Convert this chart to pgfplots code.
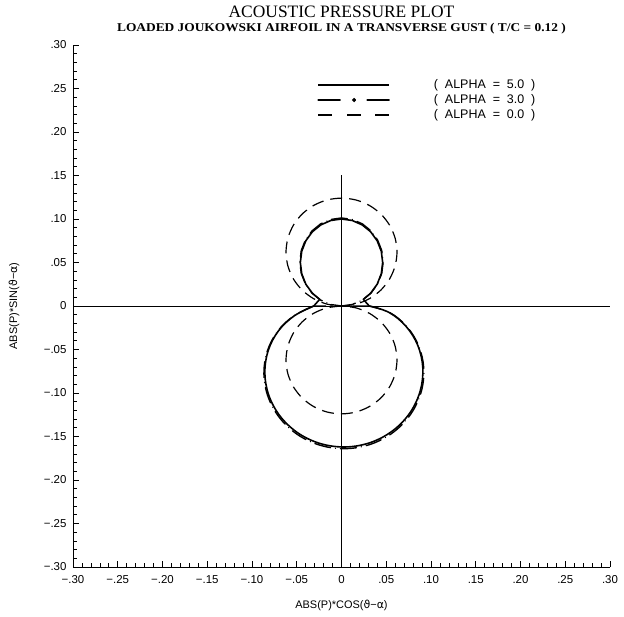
\documentclass[border=0pt]{standalone}
\usepackage{fontspec}
\setmainfont{Liberation Sans}
\newfontfamily\titlefont{Liberation Serif}
\newfontfamily\djv{DejaVu Sans}
\usepackage{pgfplots}
\pgfplotsset{compat=1.18}
\begin{document}
\begin{tikzpicture}
\begin{axis}[
 scale only axis, width=537bp, height=522bp,
 xmin=-0.3, xmax=0.3, ymin=-0.3, ymax=0.3,
 axis x line=bottom, axis y line=left,
 axis line style={-, line width=0.9pt},
 tick align=inside,
 xtick={-0.3,-0.25,-0.2,-0.15,-0.1,-0.05,0,0.05,0.1,0.15,0.2,0.25,0.3},
 ytick={-0.3,-0.25,-0.2,-0.15,-0.1,-0.05,0,0.05,0.1,0.15,0.2,0.25,0.3},
 xticklabels={−.30,−.25,−.20,−.15,−.10,−.05,0,.05,.10,.15,.20,.25,.30},
 yticklabels={−.30,−.25,−.20,−.15,−.10,−.05,0,.05,.10,.15,.20,.25,.30},
 minor x tick num=4, minor y tick num=4,
 major tick length=6bp, minor tick length=4bp,
 every tick/.style={black, line width=0.7pt},
 ticklabel style={font=\fontsize{11.5}{13}\selectfont},
 xticklabel style={yshift=-5bp},
 yticklabel style={xshift=-3bp},
 xlabel={ABS(P)*COS({\djv ϑ}−{\djv α})},
 ylabel={ABS(P)*SIN({\djv ϑ}−{\djv α})},
 every axis x label/.style={at={(rel axis cs:0.5,0)}, yshift=-38bp, anchor=center},
 every axis y label/.style={at={(rel axis cs:0,0.5)}, xshift=-59bp, rotate=90, anchor=center},
 label style={font=\fontsize{11}{13}\selectfont},
 clip=false,
 legend cell align=left,
 legend style={draw=none, fill=none, at={(axis cs:-0.027,0.2600)}, anchor=north west,
   inner sep=0pt, outer sep=0pt, row sep=4.5bp,
   font=\fontsize{12.5}{14}\selectfont,
   nodes={inner sep=0pt},
   /tikz/every odd column/.append style={column sep=44bp}},
]
\coordinate (bl) at (rel axis cs:0,0);
\coordinate (tr) at (rel axis cs:1,1);
% cross lines
\addplot[black, line width=0.8pt, forget plot] coordinates {(-0.3,0) (0.3,0)};
\addplot[black, line width=0.8pt, forget plot] coordinates {(0,-0.3) (0,0.15)};
% ALPHA = 5.0 (upper lobe)
\addplot[black, line width=1.6pt, line join=round,
  legend image code/.code={\draw[solid, black, line width=1.6pt] (0bp,0bp) -- (71bp,0bp);}]
coordinates {
(0.031,0) (0.0244,0.0076) (0.03253,0.01464) (0.03984,0.025) (0.04444,0.03706) (0.046,0.05)
(0.04444,0.06294) (0.03984,0.075) (0.03253,0.08536) (0.023,0.0933) (0.0119,0.0983) (0,0.1)
(-0.0119,0.0983) (-0.023,0.0933) (-0.03253,0.08536) (-0.03984,0.075) (-0.04444,0.06294)
(-0.046,0.05) (-0.04444,0.03706) (-0.03984,0.025) (-0.03253,0.01464) (-0.0244,0.0076) (-0.031,0)
};
\addlegendentry{(\ \ ALPHA\ \ =\ \ 5.0\ \ )}
% ALPHA = 3.0 (upper lobe and axis strokes)
\addplot[black, line width=1.4pt, line cap=round, dash pattern=on 16bp off 5bp on 0.01bp off 5bp,
  legend image code/.code={\draw[solid, black, line width=1.4pt] (0bp,0bp) -- (22bp,0bp);
     \fill[black] (36bp,0bp) circle (1.3bp);
     \draw[solid, black, line width=1.4pt] (49bp,0bp) -- (71bp,0bp);}]
coordinates {
(0.031,0) (0,0) (0.01205,0.00172) (0.02328,0.00678) (0.03292,0.01482) (0.04031,0.0253) (0.04496,0.0375)
(0.04655,0.0506) (0.04496,0.0637) (0.04031,0.0759) (0.03292,0.08638) (0.02328,0.09442)
(0.01205,0.09948) (0,0.1012) (-0.01205,0.09948) (-0.02328,0.09442) (-0.03292,0.08638)
(-0.04031,0.0759) (-0.04496,0.0637) (-0.04655,0.0506) (-0.04496,0.0375) (-0.04031,0.0253)
(-0.03292,0.01482) (-0.02328,0.00678) (-0.01205,0.00172) (0,0) (-0.031,0)
};
\addlegendentry{(\ \ ALPHA\ \ =\ \ 3.0\ \ )}
% ALPHA = 0.0 (upper circle)
\addplot[black, line width=1.2pt, dash pattern=on 12bp off 7bp, smooth,
  legend image code/.code={\draw[solid, black, line width=1.2pt] (0bp,0bp) -- (14bp,0bp);
     \draw[solid, black, line width=1.2pt] (29bp,0bp) -- (43bp,0bp);
     \draw[solid, black, line width=1.2pt] (57bp,0bp) -- (71bp,0bp);}]
coordinates {
(0,0) (0.01605,0.00211) (0.031,0.00831) (0.04384,0.01816) (0.05369,0.031) (0.05989,0.04595)
(0.062,0.062) (0.05989,0.07805) (0.05369,0.093) (0.04384,0.10584) (0.031,0.11569) (0.01605,0.12189)
(0,0.124) (-0.01605,0.12189) (-0.031,0.11569) (-0.04384,0.10584) (-0.05369,0.093) (-0.05989,0.07805)
(-0.062,0.062) (-0.05989,0.04595) (-0.05369,0.031) (-0.04384,0.01816) (-0.031,0.00831)
(-0.01605,0.00211) (0,0)
};
\addlegendentry{(\ \ ALPHA\ \ =\ \ 0.0\ \ )}
% ALPHA = 0.0 (lower circle)
\addplot[black, line width=1.2pt, dash pattern=on 12bp off 7bp, smooth, forget plot]
coordinates {
(0,0) (-0.01605,-0.00211) (-0.031,-0.00831) (-0.04384,-0.01816) (-0.05369,-0.031) (-0.05989,-0.04595)
(-0.062,-0.062) (-0.05989,-0.07805) (-0.05369,-0.093) (-0.04384,-0.10584) (-0.031,-0.11569)
(-0.01605,-0.12189) (0,-0.124) (0.01605,-0.12189) (0.031,-0.11569) (0.04384,-0.10584) (0.05369,-0.093)
(0.05989,-0.07805) (0.062,-0.062) (0.05989,-0.04595) (0.05369,-0.031) (0.04384,-0.01816)
(0.031,-0.00831) (0.01605,-0.00211) (0,0)
};
% ALPHA = 5.0 (lower lobe)
\addplot[black, line width=1.6pt, smooth, tension=0.6, forget plot]
coordinates {
(-0.031,0) (-0.0526,-0.01118) (-0.07032,-0.02841) (-0.08188,-0.05117) (-0.08566,-0.07715) (-0.08091,-0.10357)
(-0.06785,-0.12762) (-0.04763,-0.14665) (-0.02226,-0.15855) (0.00567,-0.162) (0.0333,-0.15661)
(0.05777,-0.14297) (0.07661,-0.12256) (0.08795,-0.09765) (0.09084,-0.07097) (0.08526,-0.04533)
(0.07214,-0.02343) (0.05326,-0.00748) (0.031,0)
};
% ALPHA = 3.0 (lower lobe)
\addplot[black, line width=1.4pt, line cap=round, dash pattern=on 16bp off 5bp on 0.01bp off 5bp,
  smooth, tension=0.6, forget plot]
coordinates {
(-0.031,0) (-0.0532,-0.01131) (-0.07116,-0.02875) (-0.08286,-0.05178) (-0.08669,-0.07808) (-0.08188,-0.10481)
(-0.06866,-0.12915) (-0.0482,-0.14841) (-0.02253,-0.16045) (0.00574,-0.16394) (0.0337,-0.15849)
(0.05846,-0.14469) (0.07753,-0.12403) (0.0890,-0.09882) (0.09193,-0.07182) (0.08628,-0.04587)
(0.07301,-0.02371) (0.0539,-0.00757) (0.031,0)
};
\node[font=\titlefont\fontsize{17.5}{19}\selectfont, anchor=center] at ([yshift=33bp]rel axis cs:0.5,1) {ACOUSTIC PRESSURE PLOT};
\node[font=\titlefont\bfseries\fontsize{12}{14}\selectfont, anchor=center] at ([yshift=16bp]rel axis cs:0.5,1) {\scalebox{1.12}[1]{LOADED JOUKOWSKI AIRFOIL IN A TRANSVERSE GUST ( T/C = 0.12 )}};
\end{axis}
\pgfresetboundingbox
\path ([shift={(-73bp,-49bp)}]bl) rectangle ([shift={(14bp,45bp)}]tr);
\end{tikzpicture}
\end{document}
